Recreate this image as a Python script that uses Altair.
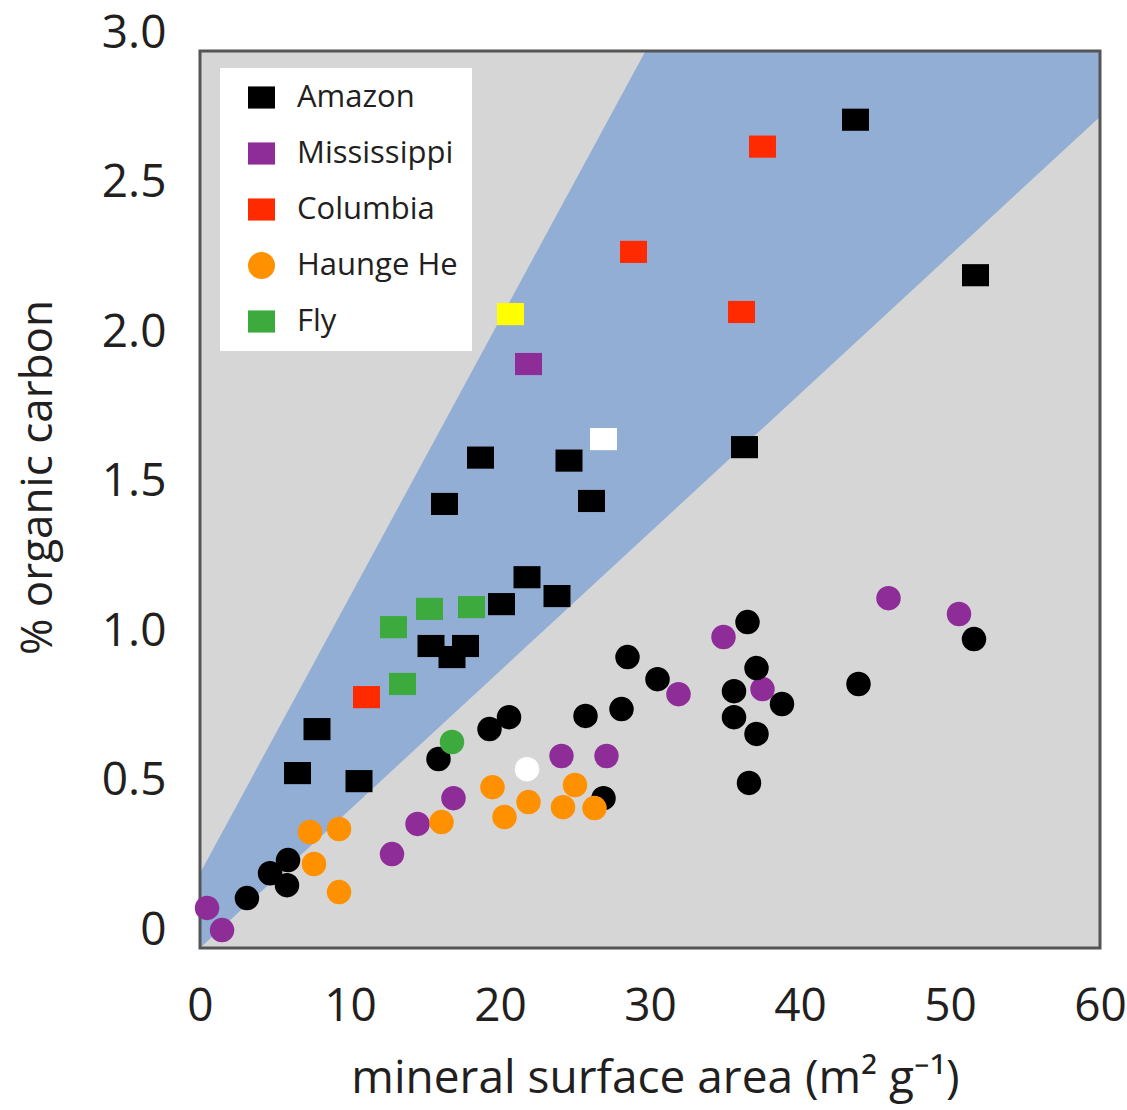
import altair as alt
import pandas as pd

# ---------------- data ----------------
LEGEND_NAMES = ["Amazon", "Mississippi", "Columbia", "Haunge He", "Fly"]
ALL_NAMES = LEGEND_NAMES + ["Unlabelled (yellow)", "Unlabelled (white)"]
COLORS = ["#000000", "#8F2D98", "#FF2A00", "#FF9000", "#3DAA3D", "#FFFF00", "#FFFFFF"]

# circles (drawn first)
miss_ci_x = [0.47, 1.47, 12.8, 14.5, 16.9, 24.1, 27.1, 31.9, 34.9, 37.5, 45.9, 50.6]
miss_ci_y = [0.074, 0.0, 0.254, 0.355, 0.441, 0.582, 0.582, 0.789, 0.98, 0.806, 1.11, 1.057]

amaz_ci_x = [3.13, 4.67, 5.87, 5.8, 15.9, 19.3, 20.6, 25.7, 26.9, 28.1, 28.5, 30.5,
             36.5, 37.1, 35.6, 38.8, 35.6, 37.1, 36.6, 43.9, 51.6]
amaz_ci_y = [0.107, 0.19, 0.234, 0.15, 0.572, 0.672, 0.712, 0.716, 0.441, 0.739, 0.913, 0.839,
             1.03, 0.876, 0.799, 0.756, 0.712, 0.656, 0.492, 0.823, 0.973]

haun_ci_x = [7.33, 9.27, 7.6, 9.27, 16.1, 19.5, 20.3, 21.9, 25.0, 24.2, 26.3]
haun_ci_y = [0.328, 0.338, 0.221, 0.127, 0.361, 0.478, 0.378, 0.428, 0.485, 0.411, 0.408]

fly_ci_x = [16.8]
fly_ci_y = [0.629]

white_ci_x = [21.8]
white_ci_y = [0.538]

# squares
amaz_sq_x = [43.7, 51.7, 36.3, 18.7, 24.6, 16.3, 26.1, 21.8, 20.1, 23.8, 15.4, 17.7, 16.8, 7.8, 6.5, 10.6]
amaz_sq_y = [2.71, 2.19, 1.615, 1.58, 1.57, 1.425, 1.435, 1.18, 1.09, 1.117, 0.95, 0.95, 0.913, 0.672, 0.525, 0.498]

colu_sq_x = [37.5, 28.9, 36.1, 11.1]
colu_sq_y = [2.62, 2.268, 2.067, 0.779]

fly_sq_x = [12.9, 15.3, 18.1, 13.5]
fly_sq_y = [1.013, 1.074, 1.08, 0.823]

miss_sq_x = [21.9]
miss_sq_y = [1.893]

yell_sq_x = [20.7]
yell_sq_y = [2.06]

white_sq_x = [26.9]
white_sq_y = [1.642]

# blue band (vertices)
band_x = [0, 29.7, 60]
band_upper = [0.19, 2.94, 2.94]
band_lower = [-0.06, 1.316, 2.72]

# plot frame
frame_x = [0, 60]
frame_y = [-0.06, 2.94]

x_ticks = [0, 10, 20, 30, 40, 50, 60]
y_ticks = [0, 0.5, 1.0, 1.5, 2.0, 2.5, 3.0]

# ---------------- tables ----------------
rows = []
def add(name, kind, xs, ys):
    for a, b in zip(xs, ys):
        rows.append({"river": name, "kind": kind, "x": a, "y": b})

add("Mississippi", "circle", miss_ci_x, miss_ci_y)
add("Amazon", "circle", amaz_ci_x, amaz_ci_y)
add("Haunge He", "circle", haun_ci_x, haun_ci_y)
add("Fly", "circle", fly_ci_x, fly_ci_y)
add("Unlabelled (white)", "circle", white_ci_x, white_ci_y)
add("Amazon", "square", amaz_sq_x, amaz_sq_y)
add("Columbia", "square", colu_sq_x, colu_sq_y)
add("Fly", "square", fly_sq_x, fly_sq_y)
add("Mississippi", "square", miss_sq_x, miss_sq_y)
add("Unlabelled (yellow)", "square", yell_sq_x, yell_sq_y)
add("Unlabelled (white)", "square", white_sq_x, white_sq_y)
pts = pd.DataFrame(rows)
pts["order"] = range(len(pts))

band = pd.DataFrame({"x": band_x, "upper": band_upper, "lower": band_lower})
frame = pd.DataFrame({"x": [frame_x[0]], "x2": [frame_x[1]], "y": [frame_y[0]], "y2": [frame_y[1]]})

FONT = "Open Sans"
RECT = "M-1,-0.82L1,-0.82L1,0.82L-1,0.82Z"

xscale = alt.Scale(domain=[0, 60], nice=False, zero=False)
yscale = alt.Scale(domain=[-0.06, 3.0], nice=False, zero=False)

xaxis = alt.Axis(values=x_ticks, grid=False, ticks=False, tickSize=0, domain=False,
                 labelFont=FONT, labelFontSize=46, labelColor="#231F20",
                 labelPadding=58, labelBaseline="middle", labelFlush=False,
                 title="mineral surface area (m\u00b2 g\u207b\u00b9)",
                 titleFont=FONT, titleFontSize=46, titleFontWeight="normal", titleColor="#231F20",
                 titleX=455, titleY=130, titleBaseline="middle", titleAlign="center")
yaxis = alt.Axis(values=y_ticks, grid=False, ticks=False, tickSize=0, domain=False,
                 labelFont=FONT, labelFontSize=46, labelColor="#231F20",
                 labelPadding=34, labelFlush=False,
                 labelExpr="datum.value == 0 ? '0' : format(datum.value, '.1f')",
                 title="% organic carbon",
                 titleFont=FONT, titleFontSize=44, titleFontWeight="normal", titleColor="#231F20",
                 titleX=-162, titleY=444, titleAngle=270, titleBaseline="middle", titleAlign="center")

X = alt.X("x:Q", scale=xscale, axis=xaxis)
Y = alt.Y("y:Q", scale=yscale, axis=yaxis)

bg = alt.Chart(frame).mark_rect(fill="#D6D6D6", strokeWidth=0).encode(
    x=X, x2="x2:Q", y=Y, y2="y2:Q")

band_layer = alt.Chart(band).mark_area(color="#92AED5", opacity=1, interpolate="linear").encode(
    x=X, y=alt.Y("upper:Q", scale=yscale, axis=yaxis), y2="lower:Q")

border = alt.Chart(frame).mark_rect(fillOpacity=0, stroke="#555555", strokeWidth=3).encode(
    x=X, x2="x2:Q", y=Y, y2="y2:Q")

legend = alt.Legend(values=LEGEND_NAMES, title=None, orient="none", legendX=20, legendY=35,
                    fillColor="#FFFFFF", padding=14, symbolOffset=12, labelOffset=20,
                    rowPadding=24, symbolSize=729, symbolStrokeWidth=0,
                    labelFont=FONT, labelFontSize=31, labelColor="#231F20", labelLimit=400)

shape_range = [RECT, RECT, RECT, "circle", RECT, RECT, RECT]

points = alt.Chart(pts).mark_point(filled=True, opacity=1, size=729, strokeWidth=0).encode(
    x=X, y=Y,
    color=alt.Color("river:N", scale=alt.Scale(domain=ALL_NAMES, range=COLORS), legend=legend),
    shape=alt.condition(alt.datum.kind == "circle", alt.value("circle"),
                        alt.Shape("river:N", scale=alt.Scale(domain=ALL_NAMES, range=shape_range),
                                  legend=legend)),
    size=alt.condition(alt.datum.kind == "circle", alt.value(600), alt.value(729)),
    order=alt.Order("order:Q"),
)

chart = alt.layer(bg, band_layer, border, points).properties(
    width=900, height=915,
    autosize=alt.AutoSizeParams(type="none"),
    padding={"left": 200, "top": 33, "right": 27, "bottom": 162},
    background="#FFFFFF",
).configure_view(strokeWidth=0)

chart.save("out.html", embed_options={"renderer": "svg", "actions": False})
